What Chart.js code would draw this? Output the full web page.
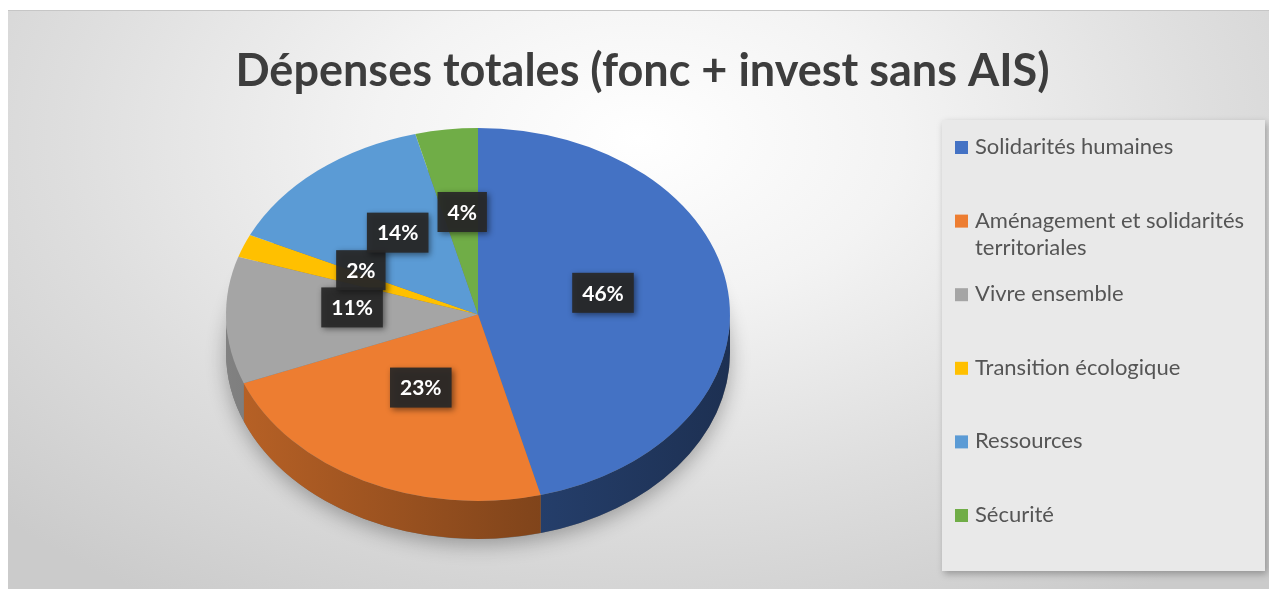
<!DOCTYPE html>
<html lang="fr">
<head>
<meta charset="utf-8">
<title>Dépenses totales</title>
<script src="https://cdn.jsdelivr.net/npm/chart.js@4.4.1/dist/chart.umd.min.js"></script>
<style>
  html, body { margin: 0; padding: 0; background: #fff; }
  #wrap { position: relative; width: 1269px; height: 589px; overflow: hidden; }
  #panel {
    position: absolute; left: 8px; top: 10px; right: 0; bottom: 0;
    border-top: 1px solid #c6c6c6;
    background: radial-gradient(ellipse 70% 95% at 50% 22%, #ffffff 0%, #f3f3f3 30%, #dedede 65%, #cbcbcb 100%);
  }
  #chart { position: absolute; left: 0; top: 0; }
</style>
</head>
<body>
<div id="wrap">
  <div id="panel"></div>
  <canvas id="chart" width="1269" height="589"></canvas>
</div>
<script>
const chartTitle = "Dépenses totales (fonc + invest sans AIS)";
const categories = [
  "Solidarités humaines",
  "Aménagement et solidarités territoriales",
  "Vivre ensemble",
  "Transition écologique",
  "Ressources",
  "Sécurité"
];
const shares = [46, 23, 11, 2, 14, 4];
const sliceColors = ["#4472C4", "#ED7D31", "#A5A5A5", "#FFC000", "#5B9BD5", "#70AD47"];

const TILT = 0.74;       // vertical squash of the pie top
const DEPTH = 38;        // thickness of the pie edge
const LABEL_AT = 0.5;    // label distance from centre, share of radius
const LABEL_LIFT = 10;   // tags sit a little higher, like on a tilted disc
const LEGEND_W = 329;

function shade(hex, f) {
  const n = parseInt(hex.slice(1), 16);
  const r = Math.round(((n >> 16) & 255) * f);
  const g = Math.round(((n >> 8) & 255) * f);
  const b = Math.round((n & 255) * f);
  return `rgb(${r},${g},${b})`;
}

// squashes the pie into an ellipse and adds the visible edge underneath
const pie3d = {
  id: "pie3d",
  beforeDatasetsDraw(chart) {
    const ctx = chart.ctx;
    const arcs = chart.getDatasetMeta(0).data;
    const cx = arcs[0].x, cy = arcs[0].y, r = arcs[0].outerRadius;
    const ry = r * TILT;

    ctx.save();
    ctx.save();
    ctx.shadowColor = "rgba(0,0,0,0.3)";
    ctx.shadowBlur = 20;
    ctx.shadowOffsetY = 6;
    ctx.fillStyle = "#777";
    ctx.beginPath();
    ctx.ellipse(cx, cy + DEPTH, r, ry, 0, 0, Math.PI * 2);
    ctx.fill();
    ctx.restore();

    arcs.forEach((arc, i) => {
      const a1 = Math.max(arc.startAngle, 0);
      const a2 = Math.min(arc.endAngle, Math.PI);
      if (a2 <= a1) return;
      const grad = ctx.createLinearGradient(cx - r, 0, cx + r, 0);
      grad.addColorStop(0, shade(sliceColors[i], 0.78));
      grad.addColorStop(0.6, shade(sliceColors[i], 0.55));
      grad.addColorStop(1, shade(sliceColors[i], 0.42));
      ctx.fillStyle = grad;
      ctx.beginPath();
      ctx.ellipse(cx, cy, r, ry, 0, a1, a2);
      ctx.ellipse(cx, cy + DEPTH, r, ry, 0, a2, a1, true);
      ctx.closePath();
      ctx.fill();
    });

    ctx.translate(cx, cy);
    ctx.scale(1, TILT);
    ctx.translate(-cx, -cy);
  },
  afterDatasetsDraw(chart) {
    const ctx = chart.ctx;
    ctx.restore();

    // percentage tags
    const arcs = chart.getDatasetMeta(0).data;
    ctx.save();
    ctx.font = "bold 21px Lato";
    ctx.textAlign = "center";
    ctx.textBaseline = "middle";
    arcs.forEach((arc, i) => {
      const mid = (arc.startAngle + arc.endAngle) / 2;
      const x = arc.x + Math.cos(mid) * arc.outerRadius * LABEL_AT;
      const y = arc.y + Math.sin(mid) * arc.outerRadius * LABEL_AT * TILT - LABEL_LIFT;
      const text = shares[i] + "%";
      const w = ctx.measureText(text).width + 20, h = 40;
      ctx.shadowColor = "rgba(0,0,0,0.5)";
      ctx.shadowBlur = 6;
      ctx.shadowOffsetX = 2;
      ctx.shadowOffsetY = 2;
      ctx.fillStyle = "rgba(40,40,40,0.93)";
      ctx.fillRect(x - w / 2, y - h / 2, w, h);
      ctx.shadowColor = "transparent";
      ctx.fillStyle = "#ffffff";
      ctx.fillText(text, x, y + 1);
    });
    ctx.restore();
  }
};

// legend panel on the right, reserved through the layout service
function wrapText(ctx, text, maxW) {
  const words = text.split(" ");
  const lines = [];
  let line = "";
  words.forEach(w => {
    const test = line ? line + " " + w : w;
    if (line && ctx.measureText(test).width > maxW) {
      lines.push(line);
      line = w;
    } else {
      line = test;
    }
  });
  lines.push(line);
  return lines;
}

const sideLegend = {
  id: "sideLegend",
  beforeInit(chart) {
    const box = {
      position: "right",
      weight: 0,
      fullSize: false,
      options: {},
      update(maxWidth, maxHeight) {
        this.width = LEGEND_W;
        this.height = maxHeight;
      },
      isHorizontal() { return false; },
      draw() {
        const ctx = chart.ctx;
        const px = this.left + 2, py = this.top + 22;
        const pw = this.width - 6, ph = 451;
        ctx.save();
        ctx.shadowColor = "rgba(0,0,0,0.28)";
        ctx.shadowBlur = 7;
        ctx.shadowOffsetX = 2;
        ctx.shadowOffsetY = 3;
        ctx.fillStyle = "#e9e9e9";
        ctx.fillRect(px, py, pw, ph);
        ctx.shadowColor = "transparent";

        ctx.font = "22px Lato";
        ctx.textBaseline = "middle";
        ctx.textAlign = "left";
        const step = 73.6, lineH = 27;
        categories.forEach((name, i) => {
          const y = py + 27 + i * step;
          ctx.fillStyle = sliceColors[i];
          ctx.fillRect(px + 13, y - 6, 13, 13);
          ctx.fillStyle = "#555555";
          wrapText(ctx, name, pw - 40).forEach((ln, j) => {
            ctx.fillText(ln, px + 33, y + j * lineH);
          });
        });
        ctx.restore();
      }
    };
    Chart.layouts.addBox(chart, box);
  }
};

new Chart(document.getElementById("chart"), {
  type: "pie",
  data: {
    labels: categories,
    datasets: [{
      data: shares,
      backgroundColor: sliceColors,
      borderWidth: 0,
      radius: 252,
      clip: false
    }]
  },
  options: {
    responsive: false,
    animation: false,
    events: [],
    layout: { padding: { left: 16, top: 0, right: 0, bottom: 58 } },
    plugins: {
      legend: { display: false },
      tooltip: { enabled: false },
      title: {
        display: true,
        text: chartTitle,
        color: "#3d3d3d",
        font: { family: "Lato", size: 45, weight: "bold", lineHeight: 1.2 },
        padding: { top: 44, bottom: 0 }
      }
    }
  },
  plugins: [pie3d, sideLegend]
});
</script>
</body>
</html>
